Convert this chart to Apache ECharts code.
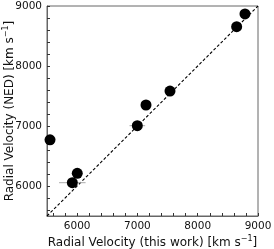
<!DOCTYPE html>
<html><head><meta charset="utf-8">
<script src="https://cdn.jsdelivr.net/npm/echarts@6/dist/echarts.min.js"></script>
<style>html,body{margin:0;padding:0;background:#fff}#c{width:274px;height:249px}</style>
</head><body><div id="c"></div>
<script>
const velThisWork = [5550, 5920, 6002, 6998, 7142, 7540, 8646, 8784];
const velNED      = [6770, 6055, 6211, 7005, 7350, 7583, 8655, 8867];
const errThisWork = [0, 220, 0, 130, 0, 0, 90, 0];
const majorTicks = [6000, 7000, 8000, 9000];
const minorTicks = [5600,5800,6000,6200,6400,6600,6800,7000,7200,7400,7600,7800,8000,8200,8400,8600,8800,9000];
const oneToOne = [[5500, 5500], [9000, 9000]];

const pts = velThisWork.map((v, i) => [v, velNED[i]]);
const errs = velThisWork.map((v, i) => [v - errThisWork[i], v + errThisWork[i], velNED[i]]);
const font = 'DejaVu Sans';
function axis(name) {
  return {
    type: 'value', min: 5500, max: 9000,
    name: name, nameLocation: 'middle', nameMoveOverlap: false,
    nameTextStyle: { fontFamily: font, fontSize: 12, color: '#111',
      rich: { sup: { fontFamily: font, fontSize: 8, color: '#111', verticalAlign: 'top', padding: [0,0,7,0] } } },
    axisLine: { show: true, lineStyle: { color: '#666', width: 1 } },
    axisTick: { show: true, inside: true, length: 3, customValues: minorTicks, lineStyle: { color: '#333' } },
    axisLabel: { customValues: majorTicks, fontFamily: font, fontSize: 10.5, color: '#111', margin: 5,
      formatter: v => String(v) },
    splitLine: { show: false }
  };
}
const chart = echarts.init(document.getElementById('c'));
const xa = axis('Radial Velocity (this work) [km s{sup|−1}]'); xa.nameGap = 19;
const ya = axis('Radial Velocity (NED) [km s{sup|−1}]'); ya.nameGap = 30;
chart.setOption({
  animation: false,
  grid: { left: 47, right: 16, top: 6, bottom: 33, show: true, borderColor: '#666', borderWidth: 1,
    containLabel: false, outerBoundsMode: 'none' },
  xAxis: xa, yAxis: ya,
  series: [
    { type: 'line', data: oneToOne, symbol: 'none', lineStyle: { color: '#000', width: 1.1, type: [3, 2] }, z: 2 },
    { type: 'custom', data: errs, z: 3,
      renderItem: function (params, api) {
        const a = api.coord([api.value(0), api.value(2)]);
        const b = api.coord([api.value(1), api.value(2)]);
        return { type: 'line', shape: { x1: a[0], y1: a[1], x2: b[0], y2: b[1] }, style: { stroke: '#aaa', lineWidth: 1 } };
      } },
    { type: 'scatter', data: pts, symbolSize: 11, itemStyle: { color: '#000', opacity: 1 }, z: 4 }
  ]
});
</script></body></html>
